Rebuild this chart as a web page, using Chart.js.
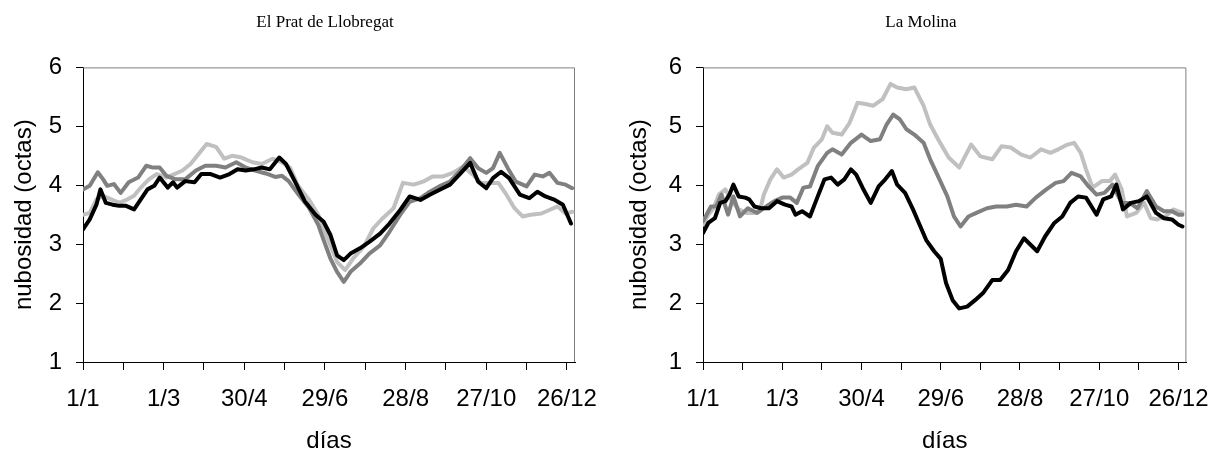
<!DOCTYPE html>
<html>
<head>
<meta charset="utf-8">
<script src="https://cdn.jsdelivr.net/npm/chart.js@4"></script>
<style>
  body { margin: 0; width: 1224px; height: 453px; background: #fff; overflow: hidden; position: relative; }
  canvas { position: absolute; top: 0; }
  #prat { left: 0; }
  #molina { left: 618px; }
</style>
</head>
<body>
<canvas id="prat" width="650" height="453"></canvas>
<canvas id="molina" width="606" height="453"></canvas>
<script>
// eje x: dias del año (0 = 1/1)
const tickDays = [0, 30, 60, 90, 120, 150, 180, 210, 240, 270, 300, 330, 360];
const labelDays = [0, 60, 120, 180, 240, 300, 360];
const labelText = ['1/1', '1/3', '30/4', '29/6', '28/8', '27/10', '26/12'];

// El Prat de Llobregat
const pratNegroDias = [0,5,10,13,17,22,27,32,38,43,48,53,57,63,67,70,76,83,88,95,102,109,115,121,127,133,139,146,151,158,165,173,179,184,189,194,199,206,213,221,228,236,243,251,258,265,273,280,288,294,300,305,311,317,325,332,338,344,351,357,363];
const pratNegro = [3.25,3.42,3.67,3.93,3.70,3.67,3.65,3.65,3.59,3.76,3.93,3.99,4.13,3.96,4.05,3.96,4.07,4.05,4.19,4.19,4.13,4.19,4.27,4.25,4.27,4.30,4.27,4.47,4.36,4.05,3.73,3.50,3.38,3.16,2.81,2.73,2.84,2.93,3.04,3.18,3.35,3.58,3.81,3.75,3.84,3.92,4.01,4.18,4.38,4.06,3.95,4.12,4.23,4.12,3.84,3.78,3.89,3.81,3.75,3.67,3.35];

const pratGrisDias = [0,5,11,15,18,23,28,34,41,47,52,57,62,69,76,84,91,99,106,114,121,128,136,143,148,153,160,168,175,179,184,189,194,199,206,213,221,228,236,243,251,258,265,273,280,288,294,300,305,310,316,322,330,336,342,347,353,359,364];
const pratGris = [3.93,3.99,4.22,4.10,3.99,4.02,3.87,4.05,4.13,4.33,4.30,4.30,4.16,4.10,4.10,4.25,4.33,4.33,4.30,4.39,4.30,4.25,4.20,4.14,4.16,4.07,3.85,3.62,3.33,3.07,2.76,2.53,2.36,2.53,2.67,2.84,2.98,3.21,3.50,3.72,3.78,3.89,3.98,4.06,4.23,4.46,4.29,4.21,4.29,4.55,4.29,4.06,3.98,4.18,4.15,4.21,4.04,4.01,3.95];

const pratClaroDias = [0,5,10,15,21,27,33,38,43,49,55,62,68,74,80,86,92,99,105,111,118,126,133,141,148,154,160,168,175,179,184,189,195,201,209,216,223,231,238,246,253,260,268,275,283,290,296,302,309,315,321,327,333,341,347,353,359,364];
const pratClaro = [3.50,3.53,3.76,3.82,3.76,3.70,3.76,3.82,3.96,4.10,4.19,4.13,4.19,4.25,4.36,4.53,4.70,4.65,4.45,4.50,4.47,4.39,4.36,4.45,4.39,4.30,3.99,3.76,3.50,3.27,2.98,2.70,2.56,2.76,2.96,3.27,3.44,3.61,4.04,4.01,4.06,4.15,4.15,4.21,4.32,4.18,4.04,4.04,4.04,3.84,3.61,3.47,3.50,3.52,3.58,3.64,3.52,3.55];

// La Molina
const molinaNegroDias = [0,4,9,13,17,20,23,27,32,35,39,44,50,56,62,67,70,75,81,86,92,97,102,107,112,116,121,127,133,138,143,147,153,159,164,169,175,180,184,189,194,200,206,212,219,225,231,237,243,248,253,259,266,272,278,284,290,298,303,309,313,318,324,330,336,343,349,355,360,363];
const molinaNegro = [3.19,3.36,3.44,3.70,3.73,3.84,4.01,3.81,3.79,3.76,3.64,3.61,3.61,3.73,3.67,3.64,3.50,3.56,3.47,3.76,4.10,4.13,4.01,4.10,4.27,4.18,3.95,3.70,3.98,4.10,4.24,4.01,3.87,3.59,3.33,3.07,2.88,2.75,2.34,2.05,1.91,1.94,2.05,2.17,2.39,2.39,2.56,2.88,3.10,2.99,2.88,3.13,3.36,3.47,3.70,3.81,3.79,3.50,3.76,3.81,4.01,3.59,3.70,3.73,3.81,3.53,3.44,3.42,3.33,3.30];

const molinaGrisDias = [0,6,10,14,19,23,28,34,41,48,54,60,66,71,76,81,87,94,98,105,112,120,127,134,139,144,149,154,160,167,172,178,185,190,195,201,207,215,222,230,237,245,252,260,267,273,279,286,292,298,304,310,317,323,329,336,343,349,355,360,363];
const molinaGris = [3.39,3.64,3.64,3.84,3.50,3.81,3.47,3.61,3.53,3.64,3.73,3.79,3.79,3.70,3.96,3.98,4.33,4.55,4.61,4.52,4.72,4.86,4.75,4.78,5.03,5.20,5.12,4.95,4.86,4.72,4.44,4.15,3.81,3.47,3.30,3.47,3.53,3.61,3.64,3.64,3.67,3.64,3.79,3.93,4.04,4.07,4.21,4.15,3.98,3.84,3.87,4.01,3.70,3.70,3.61,3.90,3.64,3.56,3.56,3.50,3.50];

const molinaClaroDias = [0,4,8,12,17,22,27,33,39,43,46,51,56,61,67,72,79,84,90,94,98,105,111,117,123,129,136,142,147,154,160,167,172,178,186,194,203,210,219,226,233,241,248,256,263,269,276,281,286,290,295,302,308,312,317,321,328,334,339,344,350,356,363];
const molinaClaro = [3.33,3.50,3.61,3.84,3.93,3.73,3.59,3.53,3.53,3.56,3.84,4.10,4.27,4.13,4.18,4.27,4.38,4.64,4.78,5.00,4.89,4.86,5.06,5.40,5.38,5.35,5.46,5.72,5.66,5.63,5.66,5.35,5.03,4.78,4.47,4.30,4.69,4.49,4.44,4.66,4.64,4.52,4.47,4.61,4.55,4.61,4.69,4.72,4.55,4.27,3.96,4.07,4.07,4.18,3.93,3.47,3.53,3.70,3.44,3.42,3.47,3.59,3.53];

Chart.defaults.font.family = "'Liberation Sans', Arial, sans-serif";
Chart.defaults.color = '#000';

// marco gris arriba y a la derecha del área de trazado
const marco = {
    id: 'marco',
    beforeDatasetsDraw(chart) {
        const { ctx, chartArea: a } = chart;
        ctx.save();
        ctx.strokeStyle = '#808080';
        ctx.lineWidth = 1;
        ctx.beginPath();
        ctx.moveTo(a.left, a.top + 0.5);
        ctx.lineTo(a.right - 0.5, a.top + 0.5);
        ctx.lineTo(a.right - 0.5, a.bottom);
        ctx.stroke();
        ctx.restore();
    }
};

function pts(days, vals) {
    return days.map((d, i) => ({ x: d, y: vals[i] }));
}

function serie(days, vals, color) {
    return {
        data: pts(days, vals),
        borderColor: color,
        borderWidth: 4,
        pointRadius: 0,
        tension: 0,
        borderJoinStyle: 'round',
        borderCapStyle: 'round'
    };
}

function makeChart(id, title, negro, gris, claro, yWidth, rightSpace, yTitlePad) {
    const ctx = document.getElementById(id).getContext('2d');
    return new Chart(ctx, {
        type: 'line',
        data: {
            datasets: [
                serie(negro[0], negro[1], '#000000'),
                serie(gris[0], gris[1], '#808080'),
                serie(claro[0], claro[1], '#c0c0c0')
            ]
        },
        options: {
            responsive: false,
            animation: false,
            plugins: {
                legend: { display: false },
                tooltip: { enabled: false },
                title: {
                    display: true,
                    text: title,
                    color: '#000',
                    font: { family: "'Liberation Serif', 'Times New Roman', serif", size: 17, weight: 'normal' },
                    padding: { top: 12, bottom: 35 }
                }
            },
            scales: {
                x: {
                    type: 'linear',
                    min: 0,
                    max: 366,
                    afterBuildTicks: (scale) => { scale.ticks = tickDays.map(v => ({ value: v })); },
                    afterFit: (scale) => { scale.height = 91; },
                    ticks: {
                        autoSkip: false,
                        maxRotation: 0,
                        minRotation: 0,
                        padding: 15,
                        font: { size: 24 },
                        callback: (v) => {
                            const k = labelDays.indexOf(v);
                            return k >= 0 ? labelText[k] : '';
                        }
                    },
                    grid: { drawOnChartArea: false, tickLength: 8, color: '#000' },
                    border: { color: '#000', width: 1 },
                    title: {
                        display: true,
                        text: 'días',
                        font: { size: 24, lineHeight: 1 },
                        padding: { top: 0, bottom: 0 }
                    }
                },
                y: {
                    min: 1,
                    max: 6,
                    afterFit: (scale) => { scale.width = yWidth; },
                    ticks: { stepSize: 1, padding: 14, font: { size: 24 } },
                    grid: { drawOnChartArea: false, tickLength: 7, color: '#000' },
                    border: { color: '#000', width: 1 },
                    title: {
                        display: true,
                        text: 'nubosidad (octas)',
                        font: { size: 24 },
                        padding: { top: yTitlePad, bottom: 0 }
                    }
                },
                // espacio vacío a la derecha (el título sigue centrado en todo el lienzo)
                yPad: {
                    position: 'right',
                    afterFit: (scale) => { scale.width = rightSpace; },
                    ticks: { display: false },
                    grid: { display: false },
                    border: { display: false }
                }
            }
        },
        plugins: [marco]
    });
}

makeChart('prat', 'El Prat de Llobregat',
    [pratNegroDias, pratNegro], [pratGrisDias, pratGris], [pratClaroDias, pratClaro], 83, 75, 10);
makeChart('molina', 'La Molina',
    [molinaNegroDias, molinaNegro], [molinaGrisDias, molinaGris], [molinaClaroDias, molinaClaro], 85, 30, 7);
</script>
</body>
</html>
